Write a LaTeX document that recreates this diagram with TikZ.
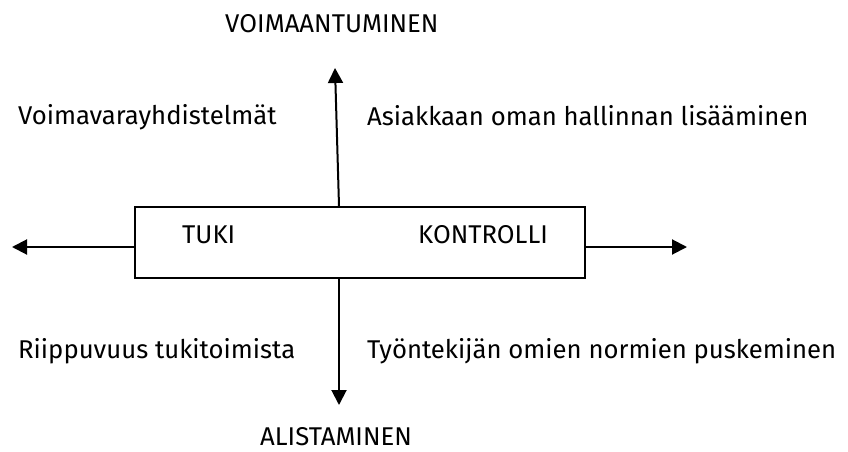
\documentclass[tikz,border=0pt]{standalone}
\usepackage{fontspec}
\setmainfont{Fira Sans}
\usetikzlibrary{arrows.meta}
\tikzset{
  lbl/.style={anchor=base west, inner sep=0pt, font=\fontsize{25.7}{30}\selectfont},
  boxst/.style={draw, line width=2pt, minimum width=450pt, minimum height=71pt, inner sep=0pt},
  arr/.style={line width=2pt, -{Triangle[length=15pt,width=15pt]}}
}
\begin{document}
\begin{tikzpicture}[x=1pt,y=-1pt]
\useasboundingbox (0,0) rectangle (848,452);
\node[boxst] (box) at (360,242.5) {};
\coordinate (lefttip) at (12,247);
\coordinate (righttip) at (687,247);
\coordinate (uptip) at (335,68);
\coordinate (downtip) at (339,405);
\draw[arr] (box.west |- lefttip) -- (lefttip);
\draw[arr] (box.east |- righttip) -- (righttip);
\draw[arr] (box.north -| downtip) -- (uptip);
\draw[arr] (box.south -| downtip) -- (downtip);
\node[lbl] (voim) at (225,33) {VOIMAANTUMINEN};
\node[lbl] (vvy) at (18,124) {Voimavarayhdistelmät};
\node[lbl] (asi) at (367,125) {Asiakkaan oman hallinnan lisääminen};
\node[lbl] (tuki) at (182,243) {TUKI};
\node[lbl] (kontr) at (418,243) {KONTROLLI};
\node[lbl] (riip) at (18,358) {Riippuvuus tukitoimista};
\node[lbl] (tyon) at (367,358) {Työntekijän omien normien puskeminen};
\node[lbl] (alis) at (260,445) {ALISTAMINEN};
\end{tikzpicture}
\end{document}
